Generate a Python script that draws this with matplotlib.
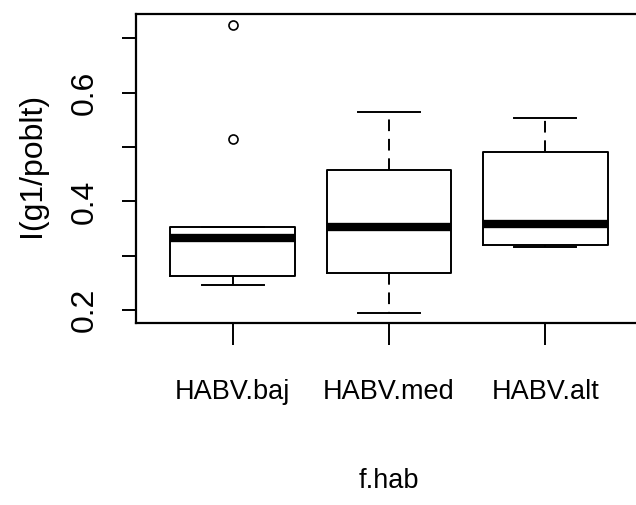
import matplotlib
matplotlib.use("Agg")
import matplotlib.pyplot as plt

# values (boxplot of I(g1/poblt) by f.hab)
categories = ["HABV.baj", "HABV.med", "HABV.alt"]
whisker_low = [0.246, 0.194, 0.316]
q1 = [0.263, 0.268, 0.320]
medians = [0.333, 0.353, 0.358]
q3 = [0.353, 0.458, 0.491]
whisker_high = [0.353, 0.565, 0.554]
outliers = [[0.515, 0.725], [], []]
y_ticks = [0.2, 0.3, 0.4, 0.5, 0.6, 0.7]
y_ticklabels = ["0.2", "", "0.4", "", "0.6", ""]

FONT = ["Liberation Sans", "DejaVu Sans"]

stats = []
for i, name in enumerate(categories):
    stats.append({
        "label": name,
        "whislo": whisker_low[i],
        "q1": q1[i],
        "med": medians[i],
        "q3": q3[i],
        "whishi": whisker_high[i],
        "fliers": outliers[i],
    })

fig = plt.figure(figsize=(6.36, 5.05), dpi=100)
ax = fig.add_axes([0.2138, 0.3604, 0.7956, 0.6119])

ax.bxp(
    stats,
    positions=[1, 2, 3],
    widths=0.8,
    boxprops=dict(color="black", linewidth=1.4),
    medianprops=dict(color="black", linewidth=6, solid_capstyle="butt"),
    whiskerprops=dict(color="black", linewidth=1.4, linestyle=(0, (6, 4))),
    capprops=dict(color="black", linewidth=1.4),
    flierprops=dict(marker="o", markerfacecolor="none", markeredgecolor="black",
                    markersize=6.5, markeredgewidth=1.2),
)

ax.set_xlim(0.38, 3.62)
ax.set_ylim(0.176, 0.745)

ax.set_yticks(y_ticks)
ax.set_yticklabels(y_ticklabels, rotation=90, va="center", fontfamily=FONT, fontsize=23)
ax.set_xticks([1, 2, 3])
ax.set_xticklabels(categories, fontfamily=FONT, fontsize=19.5)

ax.tick_params(axis="y", direction="out", length=10, width=1.4, pad=16)
ax.tick_params(axis="x", direction="out", length=16, width=1.4, pad=24)

for sp in ax.spines.values():
    sp.set_linewidth(1.6)

ax.set_ylabel("I(g1/poblt)", fontfamily=FONT, fontsize=23, va="center")
ax.yaxis.set_label_coords(-0.206, 0.51)
ax.set_xlabel("f.hab", fontfamily=FONT, fontsize=19.5, va="baseline")
ax.xaxis.set_label_coords(0.5, -0.534)

fig.savefig("out.png", dpi=100)
